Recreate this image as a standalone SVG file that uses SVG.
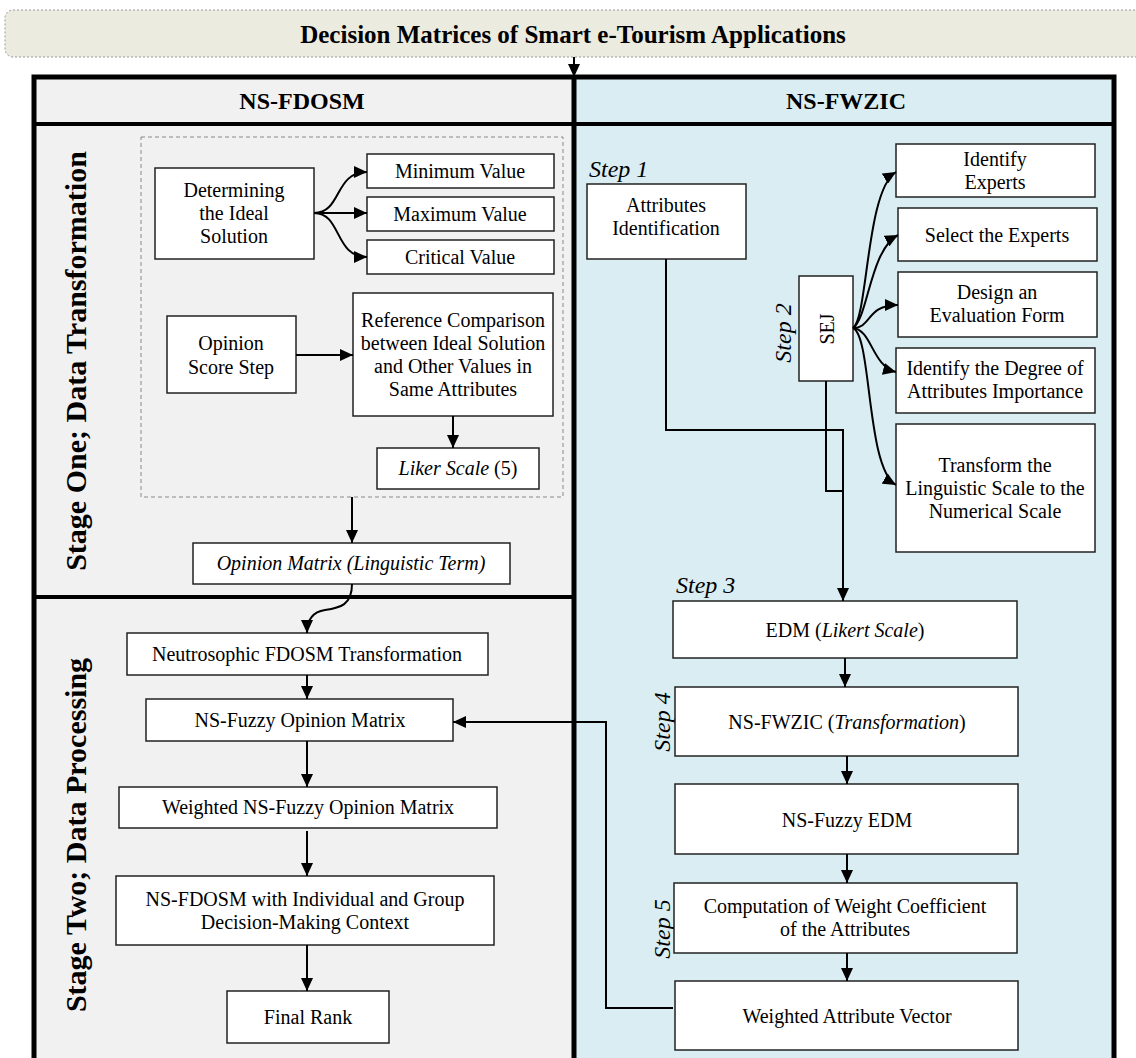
<svg xmlns="http://www.w3.org/2000/svg" width="1136" height="1058" viewBox="0 0 1136 1058">
<style>
text{font-family:"Liberation Serif","Times New Roman",serif;fill:#000}
.t{font-size:20px;text-anchor:middle}
.b{font-weight:bold;text-anchor:middle}
.st{font-size:24px;font-style:italic}
.box{fill:#fff;stroke:#222;stroke-width:1.5}
.c{fill:none;stroke:#000;stroke-width:2}
</style>
<defs>
<marker id="ah" markerUnits="userSpaceOnUse" markerWidth="14" markerHeight="12" refX="13" refY="6" orient="auto">
<path d="M0,0 L13,6 L0,12 z" fill="#000"/>
</marker>
</defs>

<g id="banner">
<rect x="5" y="10" width="1150" height="47" rx="8" fill="#ECEBE0" stroke="#999" stroke-width="1" stroke-dasharray="2 2"/>
<text class="b" x="573" y="43" font-size="25">Decision Matrices of Smart e-Tourism Applications</text>
</g>

<g id="frame">
<rect x="34" y="77" width="540" height="1000" fill="#F1F1F1"/>
<rect x="574" y="77" width="540" height="1000" fill="#DAEDF3"/>
<rect x="34" y="77" width="1080" height="1000" fill="none" stroke="#000" stroke-width="5"/>
<line x1="574" y1="77" x2="574" y2="1070" stroke="#000" stroke-width="5"/>
<line x1="34" y1="124" x2="1114" y2="124" stroke="#000" stroke-width="4"/>
<line x1="34" y1="597" x2="574" y2="597" stroke="#000" stroke-width="4"/>
<text class="b" x="302" y="109" font-size="24">NS-FDOSM</text>
<text class="b" x="846" y="109" font-size="24">NS-FWZIC</text>
<text class="b" font-size="30" transform="translate(86,361) rotate(-90)">Stage One; Data Transformation</text>
<text class="b" font-size="30" transform="translate(86,835) rotate(-90)">Stage Two; Data Processing</text>
<rect x="141" y="137" width="422" height="360" fill="none" stroke="#888" stroke-width="1" stroke-dasharray="4 3"/>
</g>

<g id="n-determining"><rect class="box" x="155" y="168" width="159" height="91"/>
<text class="t" x="234" y="197">Determining</text><text class="t" x="234" y="220">the Ideal</text><text class="t" x="234" y="243">Solution</text></g>
<g id="n-min"><rect class="box" x="367" y="154" width="187" height="34"/><text class="t" x="460" y="178">Minimum Value</text></g>
<g id="n-max"><rect class="box" x="367" y="197" width="187" height="34"/><text class="t" x="460" y="221">Maximum Value</text></g>
<g id="n-crit"><rect class="box" x="367" y="240" width="187" height="34"/><text class="t" x="460" y="264">Critical Value</text></g>
<g id="n-opinion-score"><rect class="box" x="167" y="316" width="129" height="77"/>
<text class="t" x="231" y="350">Opinion</text><text class="t" x="231" y="374">Score Step</text></g>
<g id="n-reference"><rect class="box" x="353" y="293" width="200" height="123"/>
<text class="t" x="453" y="327">Reference Comparison</text><text class="t" x="453" y="350">between Ideal Solution</text><text class="t" x="453" y="373">and Other Values in</text><text class="t" x="453" y="396">Same Attributes</text></g>
<g id="n-liker"><rect class="box" x="377" y="448" width="162" height="41"/>
<text class="t" x="458" y="475"><tspan font-style="italic">Liker Scale</tspan> (5)</text></g>
<g id="n-opinion-matrix"><rect class="box" x="193" y="543" width="317" height="41"/>
<text class="t" x="351" y="570" font-style="italic">Opinion Matrix (Linguistic Term)</text></g>
<g id="n-neutro"><rect class="box" x="127" y="633" width="361" height="42"/><text class="t" x="307" y="661">Neutrosophic FDOSM Transformation</text></g>
<g id="n-nsfuzzy"><rect class="box" x="146" y="699" width="307" height="42"/><text class="t" x="300" y="727">NS-Fuzzy Opinion Matrix</text></g>
<g id="n-weighted"><rect class="box" x="119" y="787" width="378" height="41"/><text class="t" x="308" y="814">Weighted NS-Fuzzy Opinion Matrix</text></g>
<g id="n-nsfdosm"><rect class="box" x="116" y="876" width="378" height="69"/>
<text class="t" x="305" y="906">NS-FDOSM with Individual and Group</text><text class="t" x="305" y="929">Decision-Making Context</text></g>
<g id="n-final"><rect class="box" x="227" y="991" width="162" height="52"/><text class="t" x="308" y="1024">Final Rank</text></g>

<g id="n-attr"><text class="st" x="589" y="177">Step 1</text><rect class="box" x="587" y="184" width="159" height="75"/>
<text class="t" x="666" y="212">Attributes</text><text class="t" x="666" y="235">Identification</text></g>
<g id="n-sej"><text class="st" text-anchor="middle" transform="translate(791,333) rotate(-90)">Step 2</text>
<rect class="box" x="799" y="276" width="54" height="105"/>
<text class="t" transform="translate(834,329) rotate(-90)">SEJ</text></g>
<g id="n-ident"><rect class="box" x="896" y="144" width="199" height="53"/>
<text class="t" x="995" y="166">Identify</text><text class="t" x="995" y="189">Experts</text></g>
<g id="n-select"><rect class="box" x="898" y="208" width="199" height="53"/><text class="t" x="997" y="242">Select the Experts</text></g>
<g id="n-design"><rect class="box" x="898" y="272" width="199" height="65"/>
<text class="t" x="997" y="299">Design an</text><text class="t" x="997" y="322">Evaluation Form</text></g>
<g id="n-degree"><rect class="box" x="896" y="348" width="199" height="65"/>
<text class="t" x="995" y="375">Identify the Degree of</text><text class="t" x="995" y="398">Attributes Importance</text></g>
<g id="n-transform"><rect class="box" x="896" y="424" width="199" height="128"/>
<text class="t" x="995" y="472">Transform the</text><text class="t" x="995" y="495">Linguistic Scale to the</text><text class="t" x="995" y="518">Numerical Scale</text></g>
<g id="n-edm"><text class="st" x="676" y="593">Step 3</text><rect class="box" x="673" y="601" width="344" height="57"/>
<text class="t" x="845" y="637">EDM (<tspan font-style="italic">Likert Scale</tspan>)</text></g>
<g id="n-nsfwzic"><text class="st" text-anchor="middle" transform="translate(670,722) rotate(-90)">Step 4</text>
<rect class="box" x="675" y="687" width="343" height="69"/>
<text class="t" x="847" y="729">NS-FWZIC (<tspan font-style="italic">Transformation</tspan>)</text></g>
<g id="n-nsfuzzyedm"><rect class="box" x="675" y="784" width="343" height="70"/><text class="t" x="847" y="827">NS-Fuzzy EDM</text></g>
<g id="n-comp"><text class="st" text-anchor="middle" transform="translate(670,929) rotate(-90)">Step 5</text>
<rect class="box" x="674" y="883" width="343" height="70"/>
<text class="t" x="845" y="913">Computation of Weight Coefficient</text><text class="t" x="845" y="936">of the Attributes</text></g>
<g id="n-wav"><rect class="box" x="675" y="981" width="343" height="69"/><text class="t" x="847" y="1023">Weighted Attribute Vector</text></g>

<g id="connectors">
<path class="c" d="M574 57 V77" marker-end="url(#ah)"/>
<path class="c" d="M314 213 C342 213 334 172 367 172" marker-end="url(#ah)"/>
<path class="c" d="M314 213 H367" marker-end="url(#ah)"/>
<path class="c" d="M314 213 C342 213 334 257 367 257" marker-end="url(#ah)"/>
<path class="c" d="M296 355 H353" marker-end="url(#ah)"/>
<path class="c" d="M453 416 V448" marker-end="url(#ah)"/>
<path class="c" d="M352 497 V543" marker-end="url(#ah)"/>
<path class="c" d="M352 584 C352 605 340 608 325 610 C312 612 307 620 307 633" marker-end="url(#ah)"/>
<path class="c" d="M307 675 V699" marker-end="url(#ah)"/>
<path class="c" d="M307 741 V787" marker-end="url(#ah)"/>
<path class="c" d="M307 831 V876" marker-end="url(#ah)"/>
<path class="c" d="M307 945 V991" marker-end="url(#ah)"/>
<path class="c" d="M673 1008 H606 V722 H453" marker-end="url(#ah)"/>
<path class="c" d="M666 259 V430 H843 V601" marker-end="url(#ah)"/>
<path class="c" d="M826 381 V491 H843"/>
<path class="c" d="M853 328 C868 318 866 190 896 172" marker-end="url(#ah)"/>
<path class="c" d="M853 328 C868 318 870 250 898 235" marker-end="url(#ah)"/>
<path class="c" d="M853 328 C872 328 866 305 898 305" marker-end="url(#ah)"/>
<path class="c" d="M853 328 C872 330 872 366 896 372" marker-end="url(#ah)"/>
<path class="c" d="M853 328 C872 336 866 468 896 485" marker-end="url(#ah)"/>
<path class="c" d="M845 658 V687" marker-end="url(#ah)"/>
<path class="c" d="M847 756 V784" marker-end="url(#ah)"/>
<path class="c" d="M847 854 V883" marker-end="url(#ah)"/>
<path class="c" d="M847 953 V981" marker-end="url(#ah)"/>
</g>
</svg>
